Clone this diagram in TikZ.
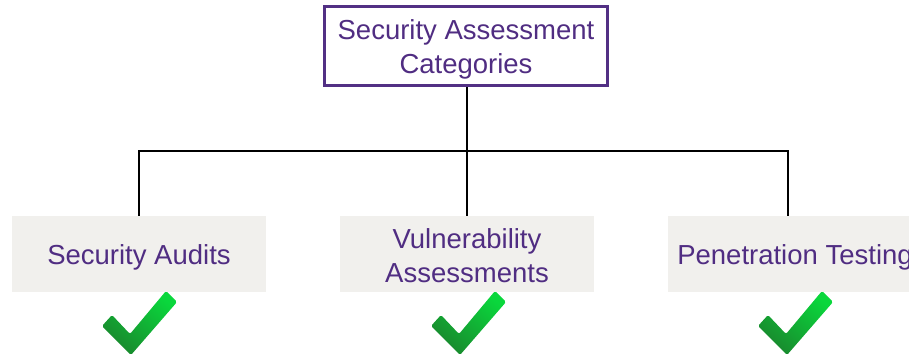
\documentclass[tikz,border=0pt]{standalone}
\usepackage{fontspec}
\setmainfont{Liberation Sans}
\definecolor{purp}{RGB}{82,48,132}
\definecolor{purptext}{RGB}{80,45,130}
\definecolor{boxfill}{RGB}{241,240,237}
\definecolor{chkA}{RGB}{10,215,60}
\definecolor{chkB}{RGB}{25,135,45}
\begin{document}
\begin{tikzpicture}[x=1pt,y=-1pt,
  lbl/.style={font=\fontsize{27.5}{34}\selectfont, text=purptext, align=center, inner sep=0pt},
  topbox/.style={draw=purp, line width=3pt, minimum width=283pt, minimum height=79pt, inner sep=0pt},
  catbox/.style={fill=boxfill, minimum width=254pt, minimum height=76pt, inner sep=0pt},
  conn/.style={draw=black, line width=2pt},
  checkmark/.style={top color=chkA, bottom color=chkB, shading angle=-40, rounded corners=1.5pt}]
\useasboundingbox (0,0) rectangle (909,358);
\clip (0,0) rectangle (909,358);
\node[topbox] (top) at (466,46) {};
\node[catbox] (a) at (139,254) {};
\node[catbox] (b) at (467,254) {};
\node[catbox] (c) at (795,254) {};
\node[lbl] (tt) at ([yshift=-3pt]top.center) {Security Assessment\\Categories};
\node[lbl] (at) at ([yshift=-3pt]a.center) {Security Audits};
\node[lbl] (bt) at ([yshift=-2pt]b.center) {Vulnerability\\Assessments};
\node[lbl] (ct) at ([yshift=-3pt]c.center) {Penetration Testing};
\coordinate (jl) at (139,151);
\coordinate (jm) at (467,151);
\coordinate (jr) at (788,151);
\draw[conn] (top.south -| jm) -- (jm);
\draw[conn, line cap=rect] (jl) -- (jr);
\draw[conn] (jl) -- (a.north -| jl);
\draw[conn] (jm) -- (b.north -| jm);
\draw[conn] (jr) -- (c.north -| jr);
\foreach \dx in {0,329,656} {
  \shade[checkmark, shift={(\dx,0)}] (102,326) -- (112,315) -- (130,334) -- (166,291) -- (177,302) -- (131,355) -- cycle;
}
\end{tikzpicture}
\end{document}
